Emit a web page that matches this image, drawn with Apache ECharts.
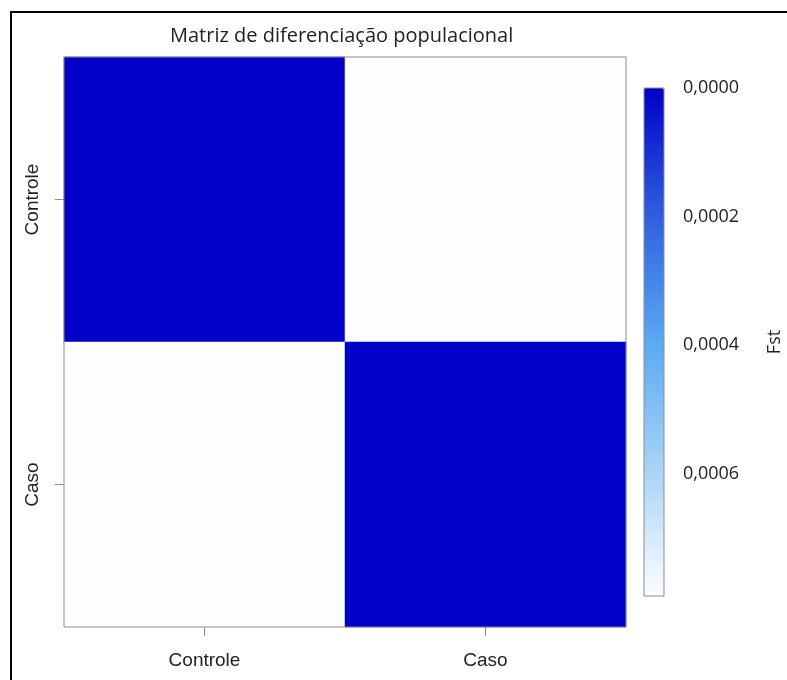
<!DOCTYPE html>
<html>
<head>
<meta charset="utf-8">
<script src="https://cdn.jsdelivr.net/npm/echarts@6/dist/echarts.min.js"></script>
<style>
  html, body { margin: 0; padding: 0; background: #fff; }
  #chart { width: 787px; height: 680px; }
</style>
</head>
<body>
<div id="chart"></div>
<script>
// Populations compared in the Fst matrix
const categories = ['Controle', 'Caso'];
// Pairwise Fst values (row = y population, column = x population)
const fstMatrix = [
  [0.0000, 0.00079],
  [0.00079, 0.0000]
];
// Colour scale range and its labelled ticks
const fstMin = 0;
const fstMax = 0.00079;
const fstTicks = [0, 0.0002, 0.0004, 0.0006];
const rampColors = ['#0000c8', '#2f5fe0', '#5aa9f2', '#a8d3f7', '#fcfdff'];

const cells = [];
fstMatrix.forEach((row, yi) => {
  row.forEach((v, xi) => cells.push([xi, yi, v]));
});

const fmt = v => v.toFixed(4).replace('.', ',');

const chart = echarts.init(document.getElementById('chart'), null, { renderer: 'canvas' });
chart.setOption({
  animation: false,
  backgroundColor: '#ffffff',
  title: {
    text: 'Matriz de diferenciação populacional',
    left: 170,
    top: 26,
    padding: 0,
    textStyle: { fontFamily: 'Open Sans', fontSize: 20, fontWeight: 'normal', color: '#222' }
  },
  graphic: [{
    type: 'rect',
    silent: true,
    shape: { x: 11, y: 12, width: 820, height: 720 },
    style: { fill: 'none', stroke: '#000', lineWidth: 2 }
  }],
  grid: [
    { left: 64, top: 57, width: 562, height: 570, show: true, borderColor: '#8c8c8c', borderWidth: 1, backgroundColor: 'transparent', z: 5 },
    { left: 644, top: 88, width: 20, height: 508, show: true, borderColor: '#8c8c8c', borderWidth: 1, backgroundColor: 'transparent', z: 6 }
  ],
  xAxis: [
    {
      type: 'category', gridIndex: 0, data: categories,
      axisLine: { show: false },
      axisTick: { show: true, alignWithLabel: true, length: 9, lineStyle: { color: '#8c8c8c' } },
      axisLabel: { margin: 24, fontFamily: 'Liberation Sans', fontSize: 19, color: '#222' },
      splitLine: { show: false }
    },
    { type: 'value', gridIndex: 1, show: false, min: 0, max: 1 }
  ],
  yAxis: [
    {
      type: 'category', gridIndex: 0, data: categories, inverse: true,
      axisLine: { show: false },
      axisTick: { show: true, alignWithLabel: true, length: 9, lineStyle: { color: '#8c8c8c' } },
      axisLabel: { rotate: 90, margin: 22, fontFamily: 'Liberation Sans', fontSize: 19, color: '#222' },
      splitLine: { show: false }
    },
    {
      type: 'value', gridIndex: 1, position: 'right', inverse: true,
      min: fstMin, max: fstMax,
      axisLine: { show: false },
      axisTick: { show: true, length: 8, customValues: fstTicks, lineStyle: { color: '#8c8c8c' } },
      axisLabel: { margin: 19, customValues: fstTicks, formatter: fmt, fontFamily: 'Open Sans', fontSize: 18, color: '#222' },
      splitLine: { show: false },
      name: 'Fst', nameLocation: 'middle', nameRotate: 90, nameGap: 102,
      nameTextStyle: { fontFamily: 'Open Sans', fontSize: 18, color: '#222' }
    }
  ],
  visualMap: {
    type: 'continuous',
    min: fstMin, max: fstMax,
    inverse: true,
    calculable: false,
    hoverLink: false,
    orient: 'vertical',
    left: 644, top: 88,
    itemWidth: 20, itemHeight: 508,
    padding: 0,
    text: null,
    showLabel: false,
    seriesIndex: 0,
    inRange: { color: rampColors }
  },
  series: [{
    type: 'heatmap',
    xAxisIndex: 0, yAxisIndex: 0,
    data: cells,
    itemStyle: { borderWidth: 0 },
    emphasis: { disabled: true }
  }]
});
</script>
</body>
</html>
